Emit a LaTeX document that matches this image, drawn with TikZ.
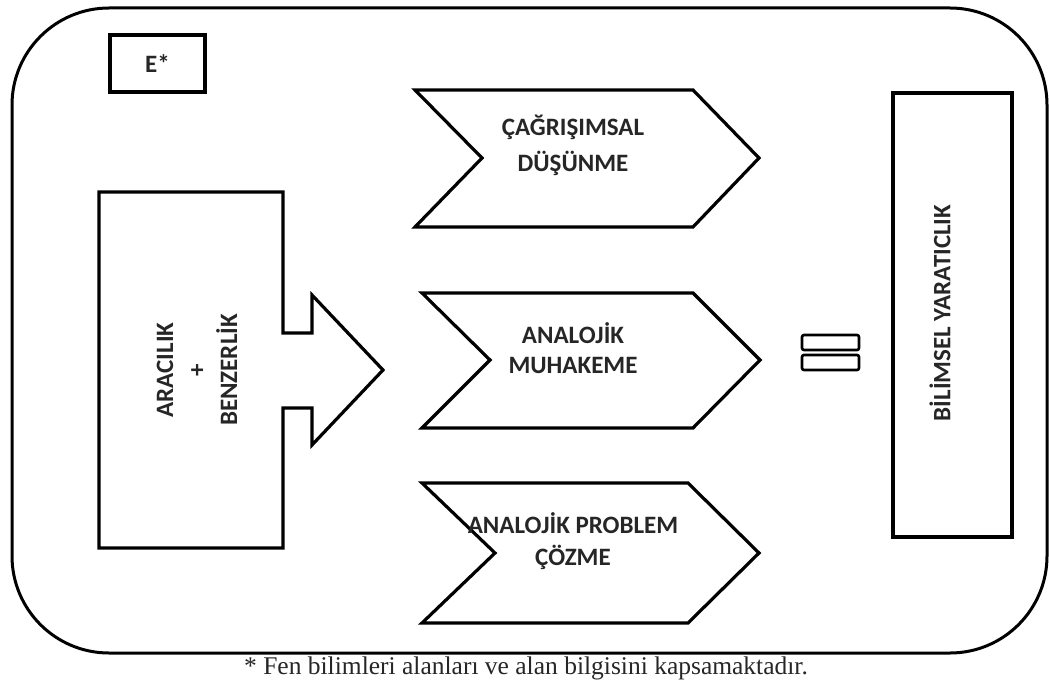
\documentclass[tikz,border=0pt]{standalone}
\usepackage{fontspec}
\setmainfont{Liberation Serif}
\newfontfamily\lblfont{Carlito}
\begin{document}
\begin{tikzpicture}[x=1pt,y=-1pt,
  outline/.style={draw=black,line width=3.2pt,line join=miter},
  lbl/.style={font=\lblfont\bfseries\fontsize{25}{32}\selectfont,text=black!85,align=center,inner sep=0pt},
  caption/.style={font=\fontsize{25.5}{28}\selectfont,text=black!85,inner sep=0pt}]
\useasboundingbox (0,0) rectangle (1049,690);

% outer frame
\draw[line width=3pt,rounded corners=97pt] (12,8) rectangle (1047,653);

% E* tag
\node[outline,minimum width=95pt,minimum height=57pt,inner sep=0pt,
      font=\lblfont\bfseries\fontsize{25}{28}\selectfont,text=black!85] (tag) at (157.5,63.5) {E*};

% left block with arrow
\draw[outline] (99,192) -- (283,192) -- (283,333) -- (312,333) -- (312,295)
  -- (383,370) -- (312,445) -- (312,408) -- (283,408) -- (283,548) -- (99,548) -- cycle;
\node[lbl,rotate=90] (src) at (197,370) {ARACILIK\\+\\BENZERLİK};

% three chevrons
\draw[outline] (415,90) -- (693,90) -- (759,158) -- (693,227) -- (415,227) -- (482,158) -- cycle;
\node[lbl,font=\lblfont\bfseries\fontsize{25}{36}\selectfont] (c1) at (573,145) {ÇAĞRIŞIMSAL\\DÜŞÜNME};

\draw[outline] (422,293) -- (693,293) -- (760,360) -- (693,428) -- (422,428) -- (490,360) -- cycle;
\node[lbl,font=\lblfont\bfseries\fontsize{25}{30}\selectfont] (c2) at (573,348) {ANALOJİK\\MUHAKEME};

\draw[outline] (422,483) -- (688,483) -- (759,553) -- (688,623) -- (422,623) -- (495,553) -- cycle;
\node[lbl] (c3) at (573,541) {ANALOJİK PROBLEM\\ÇÖZME};

% equals sign drawn as two outlined bars
\draw[line width=2.6pt,rounded corners=2pt] (802,335) rectangle (859,350);
\draw[line width=2.6pt,rounded corners=2pt] (802,355) rectangle (859,370);

% result box
\draw[outline] (893,93) rectangle (1012,537);
\node[lbl,rotate=90] (res) at (940,313) {BİLİMSEL YARATICLIK};

% footnote
\node[caption] (note) at (526,668) {* Fen bilimleri alanları ve alan bilgisini kapsamaktadır.};
\end{tikzpicture}
\end{document}
